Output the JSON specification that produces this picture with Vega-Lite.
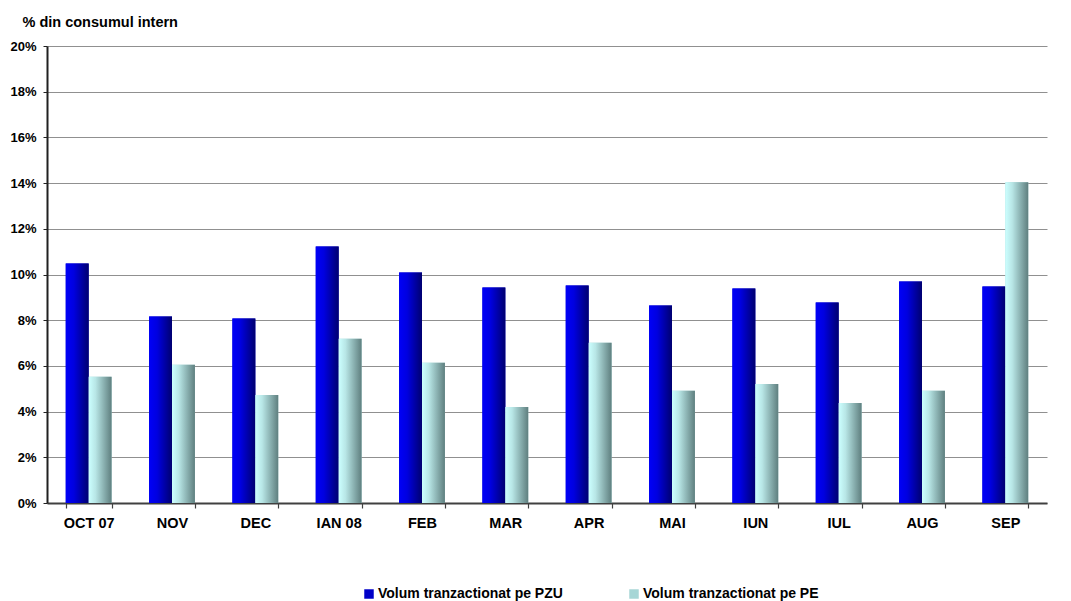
{
  "$schema": "https://vega.github.io/schema/vega-lite/v6.json",
  "autosize": {"type": "none"},
  "width": 1000,
  "height": 457,
  "padding": {"left": 47, "top": 46, "right": 24, "bottom": 98},
  "background": "white",
  "config": {
    "font": "Liberation Sans",
    "view": {"stroke": null}
  },
  "data": {
    "values": [
      {"luna": "OCT 07", "serie": "Volum tranzactionat pe PZU", "valoare": 10.48},
      {"luna": "OCT 07", "serie": "Volum tranzactionat pe PE", "valoare": 5.52},
      {"luna": "NOV", "serie": "Volum tranzactionat pe PZU", "valoare": 8.16},
      {"luna": "NOV", "serie": "Volum tranzactionat pe PE", "valoare": 6.05},
      {"luna": "DEC", "serie": "Volum tranzactionat pe PZU", "valoare": 8.07},
      {"luna": "DEC", "serie": "Volum tranzactionat pe PE", "valoare": 4.73},
      {"luna": "IAN 08", "serie": "Volum tranzactionat pe PZU", "valoare": 11.23},
      {"luna": "IAN 08", "serie": "Volum tranzactionat pe PE", "valoare": 7.19},
      {"luna": "FEB", "serie": "Volum tranzactionat pe PZU", "valoare": 10.09},
      {"luna": "FEB", "serie": "Volum tranzactionat pe PE", "valoare": 6.14},
      {"luna": "MAR", "serie": "Volum tranzactionat pe PZU", "valoare": 9.43},
      {"luna": "MAR", "serie": "Volum tranzactionat pe PE", "valoare": 4.20},
      {"luna": "APR", "serie": "Volum tranzactionat pe PZU", "valoare": 9.52},
      {"luna": "APR", "serie": "Volum tranzactionat pe PE", "valoare": 7.01},
      {"luna": "MAI", "serie": "Volum tranzactionat pe PZU", "valoare": 8.64},
      {"luna": "MAI", "serie": "Volum tranzactionat pe PE", "valoare": 4.91},
      {"luna": "IUN", "serie": "Volum tranzactionat pe PZU", "valoare": 9.39},
      {"luna": "IUN", "serie": "Volum tranzactionat pe PE", "valoare": 5.21},
      {"luna": "IUL", "serie": "Volum tranzactionat pe PZU", "valoare": 8.77},
      {"luna": "IUL", "serie": "Volum tranzactionat pe PE", "valoare": 4.38},
      {"luna": "AUG", "serie": "Volum tranzactionat pe PZU", "valoare": 9.69},
      {"luna": "AUG", "serie": "Volum tranzactionat pe PE", "valoare": 4.91},
      {"luna": "SEP", "serie": "Volum tranzactionat pe PZU", "valoare": 9.47},
      {"luna": "SEP", "serie": "Volum tranzactionat pe PE", "valoare": 14.04}
    ]
  },
  "encoding": {
    "x": {
      "field": "luna",
      "type": "nominal",
      "sort": null,
      "scale": {"paddingInner": 0.45, "paddingOuter": 0.225},
      "axis": {
        "title": null,
        "labelAngle": 0,
        "labelFont": "Liberation Sans",
        "labelFontSize": 14.5,
        "labelFontWeight": "bold",
        "labelColor": "black",
        "labelPadding": 8,
        "tickBand": "extent",
        "ticks": true,
        "tickSize": 5,
        "tickWidth": 1.2,
        "tickColor": "#404040",
        "domainColor": "#404040",
        "domainWidth": 2,
        "grid": false
      }
    },
    "xOffset": {
      "field": "serie",
      "type": "nominal",
      "scale": {"domain": ["Volum tranzactionat pe PZU", "Volum tranzactionat pe PE"], "paddingInner": 0, "paddingOuter": 0}
    },
    "y": {
      "field": "valoare",
      "type": "quantitative",
      "scale": {"domain": [0, 20], "nice": false},
      "axis": {
        "values": [0, 2, 4, 6, 8, 10, 12, 14, 16, 18, 20],
        "labelExpr": "datum.value + '%'",
        "labelFont": "Liberation Sans",
        "labelFontSize": 13,
        "labelFontWeight": "bold",
        "labelColor": "black",
        "labelPadding": 7,
        "tickSize": 4,
        "tickColor": "#202020",
        "domainColor": "#202020",
        "domainWidth": 2,
        "gridColor": "#909090",
        "gridWidth": 1,
        "title": "% din consumul intern",
        "titleAngle": 0,
        "titleAlign": "left",
        "titleBaseline": "alphabetic",
        "titleX": -25,
        "titleY": -20,
        "titleFont": "Liberation Sans",
        "titleFontSize": 14.5,
        "titleFontWeight": "bold",
        "titleColor": "black"
      }
    }
  },
  "layer": [
    {
      "mark": {"type": "bar", "strokeWidth": 0},
      "encoding": {
        "color": {
          "field": "serie",
          "type": "nominal",
          "scale": {
            "domain": ["Volum tranzactionat pe PZU", "Volum tranzactionat pe PE"],
            "range": ["#0000C8", "#A6D6D6"]
          },
          "legend": {
            "title": null,
            "orient": "none",
            "direction": "horizontal",
            "legendX": 315,
            "legendY": 541,
            "symbolType": "square",
            "symbolSize": 90,
            "symbolStrokeWidth": 0,
            "symbolOpacity": 1,
            "labelFont": "Liberation Sans",
            "labelFontSize": 14,
            "labelFontWeight": "bold",
            "labelColor": "black",
            "labelOffset": 2,
            "labelLimit": 400,
            "columnPadding": 64,
            "padding": 0,
            "encode": {
              "symbols": {
                "update": {
                  "fill": [
                    {"test": "datum.value === 'Volum tranzactionat pe PZU'", "value": {"gradient": "linear", "x1": 0, "y1": 0, "x2": 1, "y2": 0, "stops": [{"offset": 0, "color": "#0000F8"}, {"offset": 1, "color": "#000070"}]}},
                    {"value": {"gradient": "linear", "x1": 0, "y1": 0, "x2": 1, "y2": 0, "stops": [{"offset": 0, "color": "#CCFFFF"}, {"offset": 1, "color": "#5F7F7F"}]}}
                  ]
                }
              }
            }
          }
        }
      }
    },
    {
      "transform": [{"filter": "datum.serie === 'Volum tranzactionat pe PZU'"}],
      "mark": {
        "type": "bar",
        "strokeWidth": 0,
        "color": {"gradient": "linear", "x1": 0, "y1": 0, "x2": 1, "y2": 0, "stops": [{"offset": 0, "color": "#0000F8"}, {"offset": 0.35, "color": "#0000E0"}, {"offset": 1, "color": "#000070"}]}
      }
    },
    {
      "transform": [{"filter": "datum.serie === 'Volum tranzactionat pe PE'"}],
      "mark": {
        "type": "bar",
        "strokeWidth": 0,
        "color": {"gradient": "linear", "x1": 0, "y1": 0, "x2": 1, "y2": 0, "stops": [{"offset": 0, "color": "#CCFFFF"}, {"offset": 0.3, "color": "#B8E6E6"}, {"offset": 1, "color": "#5F7F7F"}]}
      }
    }
  ]
}
